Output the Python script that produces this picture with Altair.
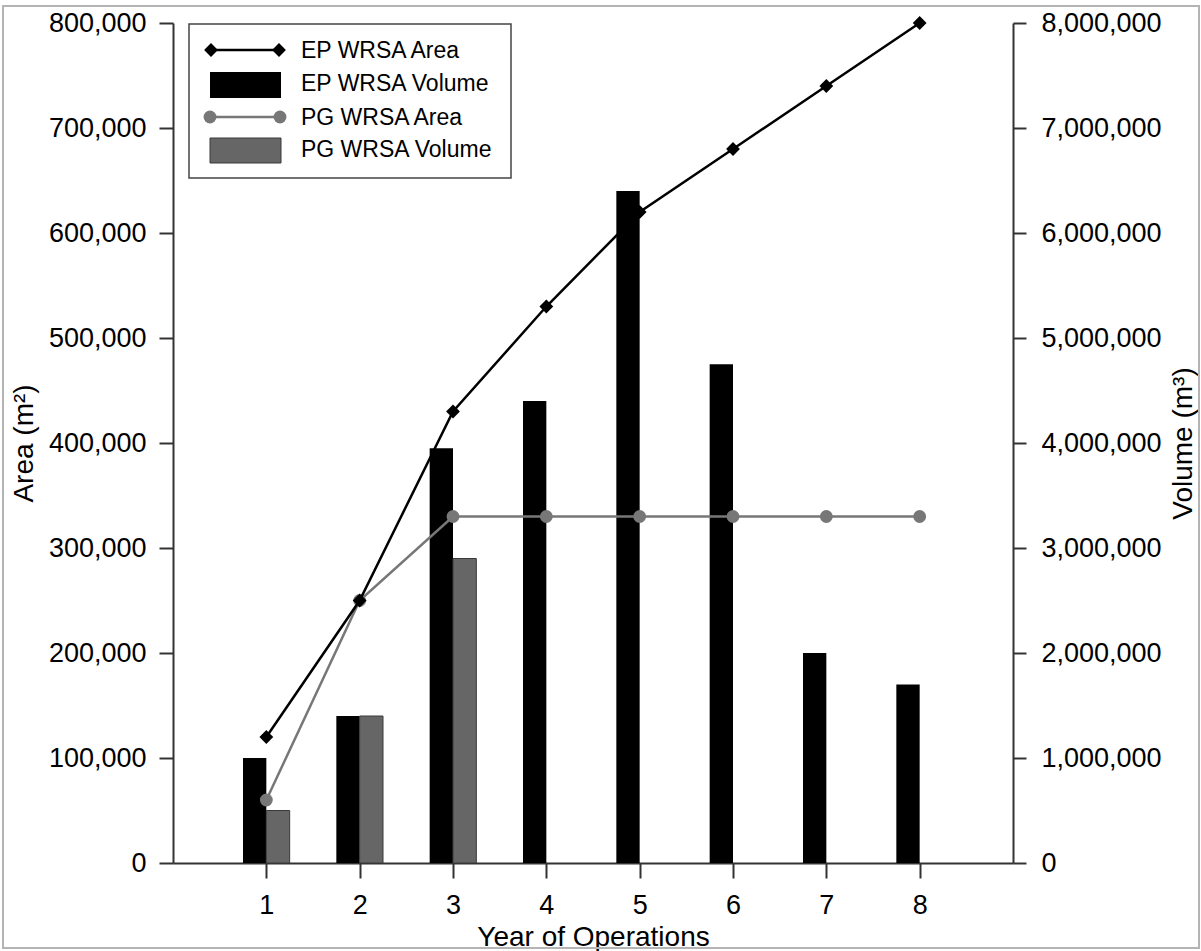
import altair as alt
import pandas as pd

# ---- data ----
years = [1, 2, 3, 4, 5, 6, 7, 8]
ep_area = [120000, 250000, 430000, 530000, 620000, 680000, 740000, 800000]
pg_area = [60000, 250000, 330000, 330000, 330000, 330000, 330000, 330000]
ep_volume = [1000000, 1400000, 3950000, 4400000, 6400000, 4750000, 2000000, 1700000]
pg_years = [1, 2, 3]
pg_volume = [500000, 1400000, 2900000]

legend_labels = ["EP WRSA Area", "EP WRSA Volume", "PG WRSA Area", "PG WRSA Volume"]
x_ticks = [1, 2, 3, 4, 5, 6, 7, 8]
area_ticks = [0, 100000, 200000, 300000, 400000, 500000, 600000, 700000, 800000]
vol_ticks = [0, 1000000, 2000000, 3000000, 4000000, 5000000, 6000000, 7000000, 8000000]

df = pd.DataFrame({"year": years, "ep_area": ep_area, "pg_area": pg_area, "ep_volume": ep_volume})
df_pg = pd.DataFrame({"year": pg_years, "pg_volume": pg_volume})
one = pd.DataFrame({"k": [0]})

FONT = "Liberation Sans"
AX = "#333333"
PG_LINE = "#777777"
PG_BAR = "#666666"

xscale = alt.Scale(domain=[0, 9], nice=False, zero=False)
xaxis = alt.Axis(values=x_ticks, title="Year of Operations", tickSize=15, labelPadding=14,
                 titlePadding=5, format="d")
ascale = alt.Scale(domain=[0, 800000], nice=False)
aaxis = alt.Axis(orient="left", values=area_ticks, format=",d", title="Area (m²)",
                 tickSize=14, labelPadding=13, titlePadding=10)
vscale = alt.Scale(domain=[0, 8000000], nice=False)
vaxis = alt.Axis(orient="right", values=vol_ticks, format=",d", title="Volume (m³)",
                 tickSize=13, labelPadding=15, titlePadding=8, titleAngle=270,
                 titleBaseline="top")

# ---- bars (volume, right axis) ----
ep_bars = alt.Chart(df).transform_calculate(x0="datum.year - 0.25").mark_rect(
    color="black"
).encode(
    x=alt.X("x0:Q", scale=xscale, axis=xaxis),
    x2="year:Q",
    y=alt.Y("ep_volume:Q", scale=vscale, axis=vaxis),
    y2=alt.datum(0),
)
pg_bars = alt.Chart(df_pg).transform_calculate(x1="datum.year + 0.25").mark_rect(
    fill=PG_BAR, stroke="#3a3a3a", strokeWidth=1
).encode(
    x=alt.X("year:Q", scale=xscale, axis=xaxis),
    x2="x1:Q",
    y=alt.Y("pg_volume:Q", scale=vscale, axis=vaxis),
    y2=alt.datum(0),
)
vol = alt.layer(ep_bars, pg_bars)

# ---- lines (area, left axis) ----
def yA(field):
    return alt.Y(f"{field}:Q", scale=ascale, axis=aaxis)

pg_line = alt.Chart(df).mark_line(color=PG_LINE, strokeWidth=2.5).encode(
    x=alt.X("year:Q", scale=xscale, axis=xaxis), y=yA("pg_area"))
pg_pts = alt.Chart(df).mark_point(shape="circle", filled=True, color=PG_LINE, size=165, opacity=1).encode(
    x=alt.X("year:Q", scale=xscale, axis=xaxis), y=yA("pg_area"))
ep_line = alt.Chart(df).mark_line(color="black", strokeWidth=2.5).encode(
    x=alt.X("year:Q", scale=xscale, axis=xaxis), y=yA("ep_area"))
ep_pts = alt.Chart(df).mark_point(shape="diamond", filled=True, color="black", size=190, opacity=1).encode(
    x=alt.X("year:Q", scale=xscale, axis=xaxis), y=yA("ep_area"))

# ---- legend (drawn as a guide box) ----
leg = []
leg.append(alt.Chart(one).mark_rect(fill="white", stroke="#444444", strokeWidth=1.5).encode(
    x=alt.value(16), x2=alt.value(338), y=alt.value(1), y2=alt.value(155)))
# row 1 : EP area
leg.append(alt.Chart(one).mark_rule(color="black", strokeWidth=2.5).encode(
    x=alt.value(38), x2=alt.value(106), y=alt.value(27)))
for xv in (38, 106):
    leg.append(alt.Chart(one).mark_point(shape="diamond", filled=True, color="black", size=190, opacity=1).encode(
        x=alt.value(xv), y=alt.value(27)))
# row 2 : EP volume
leg.append(alt.Chart(one).mark_rect(color="black").encode(
    x=alt.value(37), x2=alt.value(108), y=alt.value(49), y2=alt.value(75)))
# row 3 : PG area
leg.append(alt.Chart(one).mark_rule(color=PG_LINE, strokeWidth=2.5).encode(
    x=alt.value(37), x2=alt.value(107), y=alt.value(94)))
for xv in (37, 107):
    leg.append(alt.Chart(one).mark_point(shape="circle", filled=True, color=PG_LINE, size=165, opacity=1).encode(
        x=alt.value(xv), y=alt.value(94)))
# row 4 : PG volume
leg.append(alt.Chart(one).mark_rect(fill=PG_BAR, stroke="#3a3a3a", strokeWidth=1).encode(
    x=alt.value(37), x2=alt.value(108), y=alt.value(115), y2=alt.value(140)))
for lbl, yv in zip(legend_labels, (28, 61, 95, 127)):
    leg.append(alt.Chart(one).mark_text(align="left", baseline="middle", font=FONT, fontSize=23,
                                         color="black").encode(
        x=alt.value(128), y=alt.value(yv), text=alt.value(lbl)))

area = alt.layer(pg_line, pg_pts, ep_line, ep_pts, *leg)

frame = alt.Chart(one).mark_rect(fill=None, stroke="#b4b4b4", strokeWidth=2).encode(
    x=alt.value(-170), x2=alt.value(1026), y=alt.value(-17), y2=alt.value(925))

chart = alt.layer(frame, vol, area).resolve_scale(y="independent").properties(
    width=840, height=840,
    autosize=alt.AutoSizeParams(type="none"),
    padding={"left": 173, "top": 23, "right": 188, "bottom": 88},
    background="white",
).configure_view(stroke=None).configure_axis(
    grid=False,
    domainColor=AX, domainWidth=2, tickColor=AX, tickWidth=2,
    labelFont=FONT, labelFontSize=27, labelColor="black",
    titleFont=FONT, titleFontSize=28, titleFontWeight="normal", titleColor="black",
)

chart.save("out.html", embed_options={"renderer": "svg", "actions": False})
